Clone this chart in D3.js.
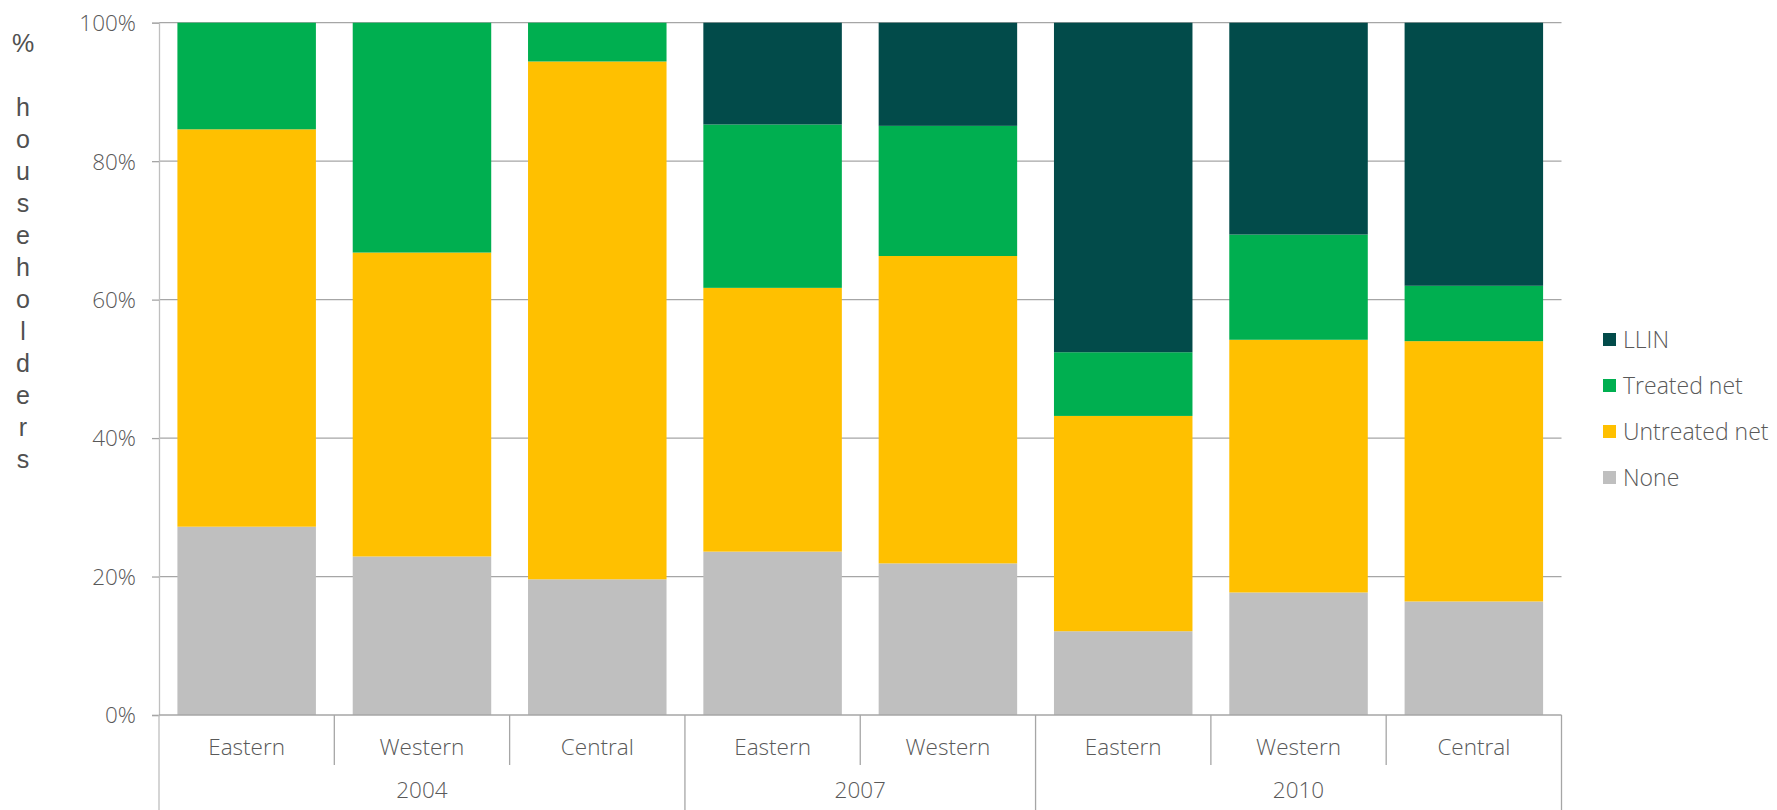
<!DOCTYPE html>
<html>
<head>
<meta charset="utf-8">
<script src="https://cdn.jsdelivr.net/npm/d3@7"></script>
<style>
  html, body { margin: 0; padding: 0; background: #fff; }
  svg { display: block; }
  .tick-label { font-family: "Open Sans", sans-serif; font-weight: 300; fill: #595959; }
</style>
</head>
<body>
<svg id="chart" width="1777" height="810"></svg>
<script>
// Survey rounds and regions (two-level category axis)
const years = ["2004", "2007", "2010"];
const regionsByYear = [
  ["Eastern", "Western", "Central"],
  ["Eastern", "Western"],
  ["Eastern", "Western", "Central"]
];

// Share of householders (%) by net type, one value per bar, left to right
const noneVals      = [27.2, 22.9, 19.6, 23.6, 21.9, 12.1, 17.7, 16.4];
const untreatedVals = [57.4, 43.9, 74.8, 38.1, 44.4, 31.1, 36.5, 37.6];
const treatedVals   = [15.4, 33.2,  5.6, 23.6, 18.8,  9.2, 15.2,  8.0];
const llinVals      = [ 0.0,  0.0,  0.0, 14.7, 14.9, 47.6, 30.6, 38.0];

const seriesNames  = ["None", "Untreated net", "Treated net", "LLIN"];
const seriesColors = ["#BFBFBF", "#FFC000", "#00AF50", "#024B4A"];
const yTicks = [0, 20, 40, 60, 80, 100];

// Build flat bar list
const bars = [];
regionsByYear.forEach((regs, gi) => regs.forEach(r => bars.push({ year: years[gi], region: r })));
bars.forEach((b, i) => {
  b.id = i;
  b["None"] = noneVals[i];
  b["Untreated net"] = untreatedVals[i];
  b["Treated net"] = treatedVals[i];
  b["LLIN"] = llinVals[i];
});

const svg = d3.select("#chart");
const plotLeft = 159, plotRight = 1561.5, plotTop = 22.7, plotBottom = 715;
const labelSize = 22.5;

const x = d3.scaleBand().domain(bars.map(d => d.id)).range([plotLeft, plotRight])
  .paddingInner(0.21).paddingOuter(0.105);
const y = d3.scaleLinear().domain([0, 100]).range([plotBottom, plotTop]);
const color = d3.scaleOrdinal().domain(seriesNames).range(seriesColors);

// Horizontal gridlines
svg.append("g").selectAll("line").data(yTicks.filter(t => t > 0)).join("line")
  .attr("x1", plotLeft).attr("x2", plotRight)
  .attr("y1", d => y(d)).attr("y2", d => y(d))
  .attr("stroke", "#a6a6a6").attr("stroke-width", 1.3);

// Stacked bars
const stack = d3.stack().keys(seriesNames);
const layers = stack(bars);
svg.append("g").selectAll("g").data(layers).join("g")
  .attr("fill", d => color(d.key))
  .selectAll("rect").data(d => d).join("rect")
  .attr("x", d => x(d.data.id))
  .attr("width", x.bandwidth())
  .attr("y", d => y(d[1]))
  .attr("height", d => Math.max(0, y(d[0]) - y(d[1])));

// Y axis
const yAxis = d3.axisLeft(y).tickValues(yTicks).tickFormat(d => d + "%")
  .tickSize(7).tickPadding(16);
const gy = svg.append("g").attr("transform", `translate(${plotLeft},0)`).call(yAxis);
gy.select(".domain").attr("stroke", "#bfbfbf").attr("stroke-width", 1.3);
gy.selectAll(".tick line").attr("stroke", "#a6a6a6").attr("stroke-width", 1.3);
gy.selectAll(".tick text").attr("class", "tick-label").attr("font-size", labelSize).attr("dy", "0.35em");

// Y axis title, one character per line
const title = "% householders";
svg.append("text")
  .attr("font-family", "Liberation Sans, Arial, sans-serif")
  .attr("font-size", 25).attr("fill", "#505050").attr("text-anchor", "middle")
  .selectAll("tspan").data(title.split("")).join("tspan")
  .attr("x", 23).attr("y", (d, i) => 52 + i * 32)
  .text(d => d === " " ? "\u00a0" : d);

// Category axis (two levels)
const axisG = svg.append("g");
axisG.append("line").attr("x1", plotLeft).attr("x2", plotRight).attr("y1", plotBottom).attr("y2", plotBottom)
  .attr("stroke", "#a6a6a6").attr("stroke-width", 1.3);

const step = x.step();
const groupEnds = [];
let acc = 0;
regionsByYear.forEach(r => { acc += r.length; groupEnds.push(acc); });
for (let i = 0; i <= bars.length; i++) {
  const bx = plotLeft + i * step;
  const isGroup = i === 0 || groupEnds.includes(i);
  axisG.append("line")
    .attr("x1", bx).attr("x2", bx)
    .attr("y1", plotBottom).attr("y2", isGroup ? 810 : 765)
    .attr("stroke", i === 0 ? "#bfbfbf" : "#a6a6a6").attr("stroke-width", 1.3);
}

axisG.selectAll("text.cat").data(bars).join("text")
  .attr("class", "cat tick-label")
  .attr("x", d => x(d.id) + x.bandwidth() / 2)
  .attr("y", 755)
  .attr("text-anchor", "middle").attr("font-size", labelSize)
  .text(d => d.region);

let start = 0;
years.forEach((yr, gi) => {
  const n = regionsByYear[gi].length;
  const x0 = plotLeft + start * step;
  const x1 = x0 + n * step;
  axisG.append("text").attr("class", "tick-label")
    .attr("x", (x0 + x1) / 2).attr("y", 798)
    .attr("text-anchor", "middle").attr("font-size", labelSize)
    .text(yr);
  start += n;
});

// Legend (top series first)
const legendItems = seriesNames.slice().reverse();
const lg = svg.append("g").selectAll("g").data(legendItems).join("g")
  .attr("transform", (d, i) => `translate(1603,${340 + i * 46})`);
lg.append("rect").attr("x", 0).attr("y", -7).attr("width", 13).attr("height", 13)
  .attr("fill", d => color(d));
lg.append("text").attr("class", "tick-label").attr("x", 20).attr("y", 8)
  .attr("font-size", 23).text(d => d);
</script>
</body>
</html>
